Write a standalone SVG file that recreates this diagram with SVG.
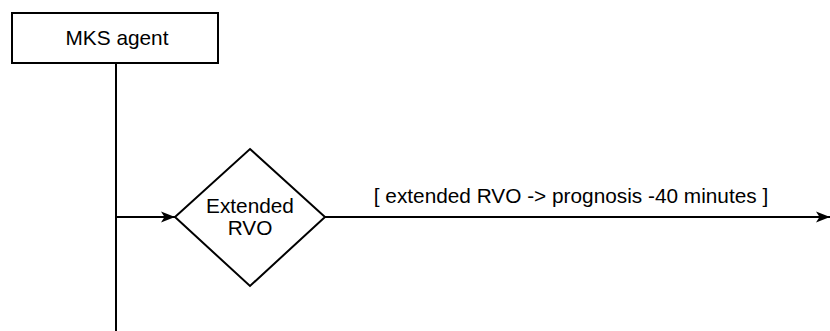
<svg xmlns="http://www.w3.org/2000/svg" width="830" height="331" viewBox="0 0 830 331">
  <style>
    .shape { fill: #ffffff; stroke: #000000; stroke-width: 2; }
    .edge { fill: none; stroke: #000000; stroke-width: 2; }
    .label { font-family: "Liberation Sans", Arial, sans-serif; font-size: 20.8px; fill: #000000; text-anchor: middle; }
  </style>
  <defs>
    <marker id="arrow" markerUnits="userSpaceOnUse" markerWidth="16" markerHeight="14" refX="14" refY="7" orient="auto">
      <path d="M0,1.5 L14,7 L0,12.5 L3.5,7 Z" fill="#000000"/>
    </marker>
  </defs>
  <g id="connectors">
    <path class="edge" d="M116,63 L116,331"/>
    <path class="edge" d="M116,217 L175,217" marker-end="url(#arrow)"/>
    <path class="edge" d="M325,217 L830,217" marker-end="url(#arrow)"/>
    <text class="label" x="571" y="203">[ extended RVO -&gt; prognosis -40 minutes ]</text>
  </g>
  <g id="mks-agent">
    <rect class="shape" x="12" y="13" width="206" height="50"/>
    <text class="label" x="117" y="45">MKS agent</text>
  </g>
  <g id="extended-rvo">
    <path class="shape" d="M250,149 L325,217 L250,286 L175,217 Z"/>
    <text class="label" x="250" y="213">Extended</text>
    <text class="label" x="250" y="235">RVO</text>
  </g>
</svg>
